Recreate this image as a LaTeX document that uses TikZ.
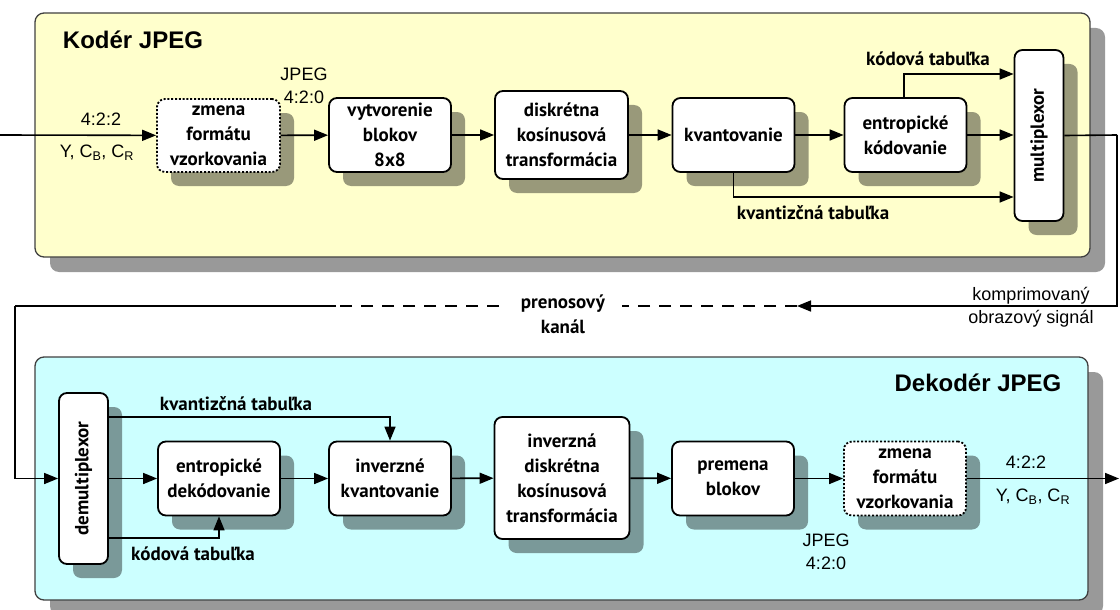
\documentclass[tikz,border=0pt]{standalone}
\usepackage{fontspec}
\usepackage{graphicx}
\setmainfont{Liberation Sans}
\newfontfamily\boxfont{PT Sans}[BoldFont={PT Sans Bold}]
\usetikzlibrary{arrows.meta,shadows}
\definecolor{encbg}{HTML}{FFFFCC}
\definecolor{decbg}{HTML}{CCFFFF}
\definecolor{edge}{HTML}{404040}
\tikzset{
  panel/.style={draw=edge, line width=1.3pt, rounded corners=9pt, inner sep=0pt,
    drop shadow={shadow xshift=15pt, shadow yshift=-15pt, opacity=0.4, fill=black}},
  stage/.style={draw=black, line width=1.8pt, rounded corners=8pt, fill=white,
    align=center, inner sep=0pt, minimum width=122pt, minimum height=74pt,
    font=\boxfont\bfseries\fontsize{19}{25}\selectfont,
    drop shadow={shadow xshift=14pt, shadow yshift=-14pt, opacity=0.4, fill=black}},
  dotstage/.style={stage, dash pattern=on 2pt off 1.8pt},
  tall/.style={stage, minimum width=49pt, minimum height=171pt},
  flow/.style={line width=1.6pt, -{Triangle[length=14pt,width=11pt]}},
  wire/.style={line width=1.6pt},
  chan/.style={line width=1.6pt, dash pattern=on 12pt off 9pt},
  blabel/.style={font=\boxfont\bfseries\fontsize{19}{25}\selectfont, align=center, inner sep=0pt},
  rlabel/.style={font=\fontsize{18}{23}\selectfont, align=center, inner sep=0pt},
  title/.style={font=\bfseries\fontsize{24}{28}\selectfont, inner sep=0pt}
}
\begin{document}
\begin{tikzpicture}[x=1pt, y=-1pt]
\useasboundingbox (0,0) rectangle (1120,610);

% background panels
\node[panel, fill=encbg, minimum width=1055pt, minimum height=244pt] (encpanel) at (562.5,135) {};
\node[panel, fill=decbg, minimum width=1053pt, minimum height=243pt] (decpanel) at (561.5,478.5) {};
\node[title] (enctitle) at (133,40) {Kodér JPEG};
\node[title] (dectitle) at (978,383) {Dekodér JPEG};

% encoder stages
\node[dotstage, minimum width=123pt, minimum height=73pt] (zm1) at (218.5,135.5) {zmena\\formátu\\vzorkovania};
\node[stage] (vb) at (390,135) {vytvorenie\\blokov\\8x8};
\node[stage, minimum width=133pt, minimum height=88pt] (dct) at (561.5,135) {diskrétna\\kosínusová\\transformácia};
\node[stage] (kv) at (733.5,135) {kvantovanie};
\node[stage] (ent) at (905.5,135) {entropické\\kódovanie};
\node[tall] (mux) at (1039,135.5) {\rotatebox{90}{multiplexor}};

% encoder connections
\coordinate (encin) at (0,135);
\draw[flow] (encin) -- (zm1);
\draw[flow] (zm1) -- (vb);
\draw[flow] (vb) -- (dct);
\draw[flow] (dct) -- (kv);
\draw[flow] (kv) -- (ent);
\draw[flow] (ent) -- (ent -| mux.west);
\draw[flow] (ent.north -| 904,0) |- (mux.west |- 0,74);
\draw[flow] (kv.south) |- (mux.west |- 0,197);

\node[rlabel] (in1) at (101,119) {4:2:2};
\node[rlabel] (in2) at (97,153) {Y, C\textsubscript{B}, C\textsubscript{R}};
\node[rlabel] (jp1) at (304,86) {JPEG\\4:2:0};
\node[blabel] (kt1) at (928,59) {kódová tabuľka};
\node[blabel] (qt1) at (813,213) {kvantizčná tabuľka};

% transmission channel
\coordinate (rturn) at (1117,135);
\coordinate (cr1) at (797,306);
\coordinate (cr2) at (622,306);
\coordinate (cl1) at (499,306);
\coordinate (cl2) at (336,306);
\coordinate (lturn) at (15,306);
\draw[wire] (mux.east) -- (rturn);
\draw[flow] (rturn) |- (cr1);
\draw[chan] (cr1) -- (cr2);
\draw[chan] (cl1) -- (cl2);
\node[blabel] (channel) at (563,314) {prenosový\\kanál};
\node[rlabel] (sig) at (1031,307.5) {komprimovaný\\obrazový signál};

% decoder stages
\node[tall] (demux) at (83.5,478.5) {\rotatebox{90}{demultiplexor}};
\node[stage] (entd) at (219,478.5) {entropické\\dekódovanie};
\node[stage] (ikv) at (390,478.5) {inverzné\\kvantovanie};
\node[stage, minimum width=135pt, minimum height=122pt] (idct) at (562,478) {inverzná\\diskrétna\\kosínusová\\transformácia};
\node[stage] (pb) at (733,478.5) {premena\\blokov};
\node[dotstage] (zm2) at (905,478.5) {zmena\\formátu\\vzorkovania};

% decoder connections
\coordinate (decout) at (1119,478.5);
\draw[wire] (cl2) -- (lturn);
\draw[flow] (lturn) |- (demux.west);
\draw[flow] (demux) -- (entd);
\draw[flow] (entd) -- (ikv);
\draw[flow] (ikv) -- (idct);
\draw[flow] (idct) -- (pb);
\draw[flow] (pb) -- (zm2);
\draw[flow] (zm2) -- (decout);
\draw[flow] (demux.east |- 0,417) -| (ikv.north);
\draw[flow] (demux.east |- 0,538) -| (entd.south);

\node[blabel] (qt2) at (236,404) {kvantizčná tabuľka};
\node[blabel] (kt2) at (193,554) {kódová tabuľka};
\node[rlabel] (jp2) at (826,551.5) {JPEG\\4:2:0};
\node[rlabel] (out1) at (1026,462) {4:2:2};
\node[rlabel] (out2) at (1033,497) {Y, C\textsubscript{B}, C\textsubscript{R}};
\end{tikzpicture}
\end{document}
